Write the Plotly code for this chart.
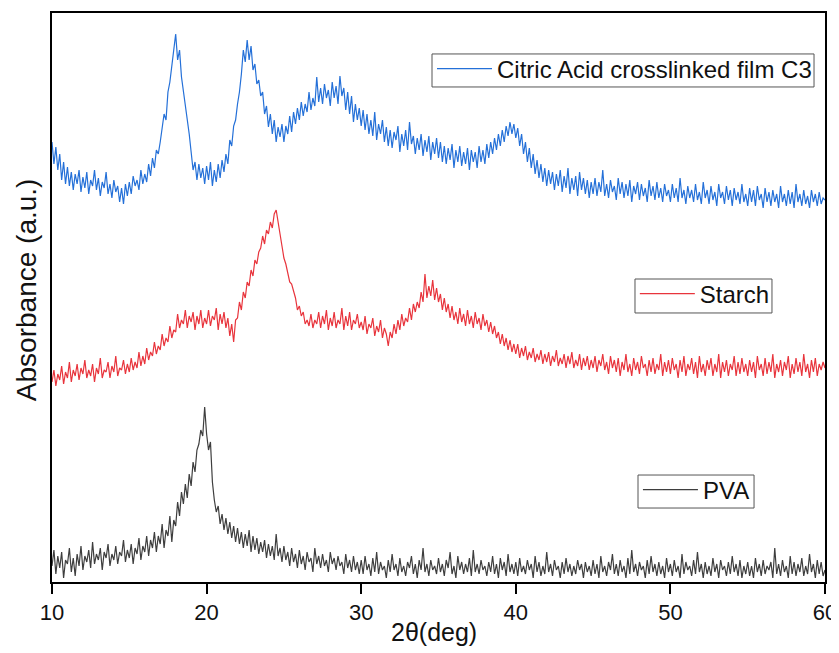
import numpy as np
import plotly.graph_objects as go

# 2-theta grid (deg), step 0.125
two_theta = np.arange(10.0, 60.0001, 0.125)

citric_c3 = [
    440, 418, 435, 412, 428, 402, 420, 398, 415, 396, 410, 392, 408, 398, 412, 390, 405, 394, 410, 388,
    402, 396, 412, 392, 404, 386, 400, 394, 410, 388, 398, 384, 402, 390, 396, 380, 394, 378, 398, 386,
    400, 388, 406, 396, 402, 392, 412, 398, 408, 400, 418, 406, 424, 414, 432, 428, 440, 452, 468, 462,
    490, 500, 518, 530, 548, 522, 532, 505, 492, 478, 462, 448, 430, 412, 420, 402, 418, 404, 414, 398,
    416, 402, 420, 396, 412, 400, 418, 404, 422, 410, 428, 418, 442, 436, 456, 462, 478, 490, 508, 532,
    520, 542, 522, 536, 512, 518, 498, 502, 486, 490, 468, 476, 455, 468, 448, 462, 440, 455, 445, 458,
    440, 456, 448, 466, 450, 470, 458, 474, 462, 480, 466, 478, 470, 490, 472, 484, 476, 505, 480, 494,
    478, 498, 484, 492, 476, 500, 484, 496, 478, 506, 486, 494, 472, 490, 468, 486, 460, 478, 462, 474,
    456, 472, 452, 468, 448, 462, 446, 470, 442, 458, 448, 462, 440, 455, 436, 452, 434, 450, 442, 456,
    430, 448, 436, 452, 432, 460, 438, 446, 428, 444, 432, 448, 426, 442, 430, 446, 422, 440, 428, 444,
    424, 440, 420, 436, 418, 434, 422, 438, 414, 432, 420, 436, 416, 430, 418, 434, 412, 432, 420, 430,
    414, 436, 420, 432, 418, 438, 424, 440, 428, 444, 432, 448, 436, 452, 440, 456, 446, 460, 448, 458,
    444, 454, 436, 448, 428, 440, 420, 434, 414, 428, 408, 422, 404, 418, 400, 414, 396, 412, 398, 410,
    392, 408, 396, 412, 390, 406, 394, 414, 388, 404, 392, 406, 386, 410, 392, 404, 388, 402, 384, 400,
    388, 404, 386, 400, 390, 412, 386, 398, 384, 402, 390, 396, 382, 404, 388, 400, 384, 398, 386, 402,
    380, 396, 388, 400, 382, 398, 386, 394, 380, 402, 386, 396, 382, 400, 384, 394, 380, 398, 386, 392,
    380, 398, 384, 394, 380, 404, 384, 392, 378, 396, 384, 392, 380, 398, 382, 390, 378, 400, 384, 392,
    378, 396, 382, 390, 376, 398, 384, 390, 378, 396, 382, 392, 376, 394, 382, 390, 378, 398, 380, 388,
    376, 394, 380, 392, 376, 396, 382, 388, 374, 394, 380, 390, 376, 392, 380, 388, 374, 396, 380, 388,
    376, 392, 378, 390, 374, 398, 380, 388, 376, 392, 378, 386, 374, 392, 380, 388, 376, 390, 378, 384,
    382,
]

starch = [
    200, 212, 196, 208, 202, 216, 198, 210, 204, 220, 200, 212, 206, 218, 202, 214, 208, 222, 204, 212,
    206, 218, 200, 214, 208, 224, 204, 212, 210, 220, 204, 216, 210, 226, 206, 214, 212, 222, 208, 218,
    210, 224, 212, 220, 214, 230, 216, 226, 218, 234, 222, 230, 226, 240, 228, 236, 232, 248, 236, 244,
    240, 256, 244, 252, 250, 268, 254, 262, 258, 272, 254, 266, 260, 270, 252, 266, 258, 272, 254, 264,
    258, 272, 256, 266, 262, 274, 252, 268, 258, 270, 254, 264, 246, 258, 240, 262, 264, 280, 272, 290,
    284, 300, 296, 312, 306, 322, 318, 330, 334, 346, 338, 352, 348, 360, 354, 368, 372, 358, 348, 336,
    324, 318, 310, 300, 298, 290, 284, 272, 276, 266, 270, 258, 262, 256, 268, 254, 262, 258, 270, 254,
    266, 258, 272, 252, 264, 256, 270, 254, 262, 258, 274, 252, 266, 256, 270, 252, 262, 258, 268, 254,
    260, 252, 266, 248, 258, 254, 264, 246, 256, 250, 262, 244, 254, 248, 236, 250, 244, 258, 248, 262,
    252, 268, 256, 264, 260, 274, 262, 278, 270, 280, 274, 290, 280, 308, 284, 296, 286, 302, 282, 294,
    280, 288, 272, 284, 270, 278, 264, 276, 262, 270, 258, 274, 260, 268, 256, 272, 258, 266, 254, 270,
    258, 264, 252, 268, 256, 262, 250, 260, 248, 256, 244, 250, 238, 248, 236, 244, 232, 242, 230, 238,
    228, 238, 224, 234, 226, 236, 222, 230, 224, 234, 220, 228, 222, 232, 218, 228, 220, 230, 216, 226,
    220, 232, 216, 224, 218, 228, 214, 226, 218, 230, 214, 222, 216, 228, 212, 224, 216, 226, 212, 222,
    214, 226, 210, 222, 216, 228, 212, 220, 208, 226, 214, 222, 210, 224, 206, 220, 212, 228, 210, 218,
    206, 224, 212, 220, 208, 226, 214, 218, 206, 222, 210, 224, 208, 218, 212, 228, 206, 220, 210, 222,
    208, 224, 212, 218, 204, 222, 210, 226, 206, 218, 212, 224, 208, 220, 204, 226, 210, 218, 206, 222,
    212, 224, 206, 218, 210, 228, 204, 220, 210, 222, 206, 218, 212, 226, 206, 220, 208, 224, 210, 218,
    206, 222, 210, 220, 204, 226, 212, 218, 206, 224, 208, 220, 210, 228, 204, 218, 210, 222, 206, 220,
    212, 226, 204, 218, 208, 224, 210, 220, 206, 228, 210, 218, 204, 222, 210, 224, 206, 218, 212, 220,
    214,
]

pva = [
    16, 32, 8, 26, 14, 30, 4, 22, 18, 34, 10, 24, 6, 28, 16, 36, 12, 26, 20, 32,
    14, 40, 18, 28, 22, 34, 12, 30, 24, 38, 16, 28, 22, 36, 18, 30, 26, 42, 20, 32,
    24, 38, 18, 34, 28, 44, 22, 36, 30, 46, 26, 42, 34, 50, 30, 46, 38, 58, 34, 52,
    46, 66, 40, 62, 56, 80, 66, 90, 78, 98, 84, 108, 96, 120, 110, 132, 138, 152, 146, 175,
    148, 132, 140, 100, 82, 70, 76, 58, 68, 52, 64, 48, 60, 44, 56, 40, 54, 38, 50, 34,
    48, 36, 52, 30, 46, 32, 44, 28, 40, 30, 42, 24, 38, 26, 36, 22, 48, 26, 34, 20,
    36, 22, 30, 16, 34, 20, 28, 14, 32, 18, 26, 12, 30, 20, 24, 10, 34, 18, 26, 14,
    28, 16, 22, 10, 30, 18, 24, 12, 26, 16, 20, 8, 28, 14, 22, 10, 26, 12, 20, 8,
    22, 8, 26, 12, 18, 6, 24, 10, 30, 8, 20, 12, 16, 4, 22, 10, 28, 12, 18, 6,
    24, 10, 16, 6, 20, 14, 26, 8, 18, 4, 22, 12, 34, 10, 18, 6, 22, 12, 16, 8,
    24, 10, 18, 6, 22, 14, 30, 8, 16, 4, 26, 12, 20, 8, 18, 10, 24, 6, 32, 10,
    18, 8, 22, 12, 16, 6, 20, 10, 26, 8, 18, 4, 24, 12, 20, 6, 28, 10, 18, 8,
    20, 6, 24, 10, 16, 8, 22, 12, 18, 4, 26, 10, 20, 6, 16, 8, 30, 10, 18, 6,
    22, 12, 16, 4, 20, 8, 24, 10, 18, 6, 16, 8, 22, 12, 18, 4, 20, 10, 16, 6,
    22, 8, 18, 4, 26, 10, 16, 6, 20, 12, 28, 8, 18, 6, 22, 10, 16, 4, 24, 8,
    32, 10, 18, 6, 20, 12, 16, 4, 22, 8, 26, 10, 18, 6, 20, 8, 16, 4, 24, 10,
    18, 6, 22, 10, 16, 4, 28, 8, 20, 12, 16, 6, 22, 8, 30, 10, 18, 4, 20, 8,
    16, 6, 24, 10, 18, 4, 22, 12, 16, 6, 20, 8, 26, 10, 18, 6, 22, 4, 16, 8,
    20, 6, 16, 4, 24, 10, 18, 6, 22, 8, 16, 12, 20, 4, 34, 8, 18, 6, 22, 10,
    16, 4, 26, 8, 20, 6, 18, 10, 24, 6, 16, 8, 28, 10, 18, 4, 22, 8, 20, 6,
    12,
]

names = ["Citric Acid crosslinked film C3", "Starch", "PVA"]
colors = ["#2470d8", "#e8343c", "#3e3e3e"]
series = [citric_c3, starch, pva]
legend_ids = ["legend", "legend2", "legend3"]

fig = go.Figure()
for name, col, ys, lg in zip(names, colors, series, legend_ids):
    fig.add_trace(go.Scatter(
        x=two_theta, y=ys, mode="lines", name=name,
        line=dict(color=col, width=1.2), legend=lg,
    ))

font_family = "Liberation Sans, Arial, sans-serif"
leg_common = dict(
    bgcolor="rgba(0,0,0,0)", borderwidth=0,
    font=dict(family=font_family, size=24, color="#111111"),
    xanchor="left", yanchor="top", itemwidth=55,
)

# legend frames (paper coordinates of the plot area)
legend_frames = [
    (0.4916, 0.9858, 0.870, 0.928),
    (0.7542, 0.9314, 0.4728, 0.5325),
    (0.7581, 0.9082, 0.130, 0.188),
]
shapes = [
    dict(type="rect", xref="paper", yref="paper", x0=a, x1=b, y0=c, y1=d,
         line=dict(color="#555555", width=1), fillcolor="white", layer="below")
    for a, b, c, d in legend_frames
]

# the page body adds an 8px offset, so the figure is drawn 8px smaller
fig.update_layout(
    width=831, height=645,
    margin=dict(l=44, r=14, t=5, b=71),
    paper_bgcolor="white", plot_bgcolor="white",
    font=dict(family=font_family, color="#111111"),
    showlegend=True,
    legend=dict(x=0.4916, y=0.941, **leg_common),
    legend2=dict(x=0.754, y=0.5457, **leg_common),
    legend3=dict(x=0.758, y=0.2012, **leg_common),
    shapes=shapes,
    xaxis=dict(
        range=[10, 60], dtick=10, tick0=10, automargin=False,
        showline=True, linecolor="black", linewidth=2, mirror=True,
        ticks="outside", ticklen=10, tickwidth=2, tickcolor="black",
        ticklabelstandoff=0, ticklabeloverflow="allow",
        showgrid=False, zeroline=False,
        tickfont=dict(size=22, family=font_family, color="#111111"),
    ),
    yaxis=dict(
        range=[0, 569], automargin=False,
        showline=True, linecolor="black", linewidth=2, mirror=True,
        ticks="", showticklabels=False, showgrid=False, zeroline=False,
    ),
    annotations=[
        dict(text="2θ(deg)", xref="paper", yref="paper", x=0.494, y=-0.0879,
             xanchor="center", yanchor="middle", showarrow=False,
             font=dict(size=25, family=font_family, color="#111111")),
        dict(text="Absorbance (a.u.)", xref="paper", yref="paper", x=-0.0336, y=0.513,
             xanchor="center", yanchor="middle", textangle=-90, showarrow=False,
             font=dict(size=28, family=font_family, color="#111111")),
    ],
)

fig.write_html("out.html")
